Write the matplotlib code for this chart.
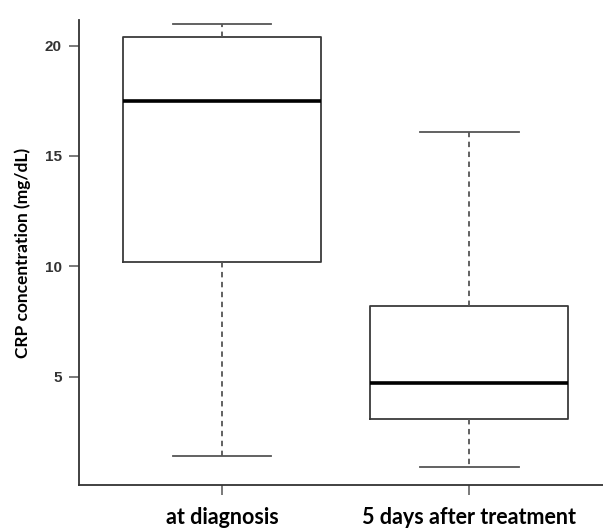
from matplotlib import pyplot as plt

# CRP concentration (mg/dL) summary per time point
groups = ['at diagnosis', '5 days after treatment']
whisker_low = [1.4, 0.9]
q1 = [10.2, 3.1]
median = [17.5, 4.7]
q3 = [20.4, 8.2]
whisker_high = [21.0, 16.1]

stats = []
for i, name in enumerate(groups):
    stats.append({'label': name, 'whislo': whisker_low[i], 'q1': q1[i],
                  'med': median[i], 'q3': q3[i], 'whishi': whisker_high[i],
                  'fliers': []})

fig = plt.figure(figsize=(6.03, 5.31), dpi=100)
ax = fig.add_axes([79.3 / 603, 46 / 531, (603 - 79.3) / 603, 465 / 531])

edge = '#3a3a3a'
ax.bxp(stats, positions=[1, 2], widths=0.8, showfliers=False,
       boxprops=dict(color=edge, linewidth=1.3),
       medianprops=dict(color='black', linewidth=2.6),
       whiskerprops=dict(color='#555555', linewidth=1.3, linestyle=(0, (3, 2.5))),
       capprops=dict(color='#555555', linewidth=1.3))

ax.set_xlim(0.422, 2.542)
ax.set_ylim(0.09, 21.16)

ax.spines['top'].set_visible(False)
ax.spines['right'].set_visible(False)
for s in ['left', 'bottom']:
    ax.spines[s].set_color('#333333')
    ax.spines[s].set_linewidth(1.3)

ax.set_yticks([5, 10, 15, 20])
ax.set_yticklabels(['5', '10', '15', '20'], fontweight='bold',
                   family='Liberation Sans', fontsize=11, color='#333333')
ax.tick_params(axis='y', length=7.5, width=1.1, color='#555555', pad=5)

ax.set_xticks([1, 2])
ax.set_xticklabels(groups, fontweight='bold', family='Lato', fontsize=15.5)
ax.tick_params(axis='x', length=7.5, width=1.1, color='#555555', pad=8)

ax.set_ylabel('CRP concentration (mg/dL)', fontweight='bold', family='Lato',
              fontsize=12.5, labelpad=10)

fig.savefig('out.png', dpi=100)
